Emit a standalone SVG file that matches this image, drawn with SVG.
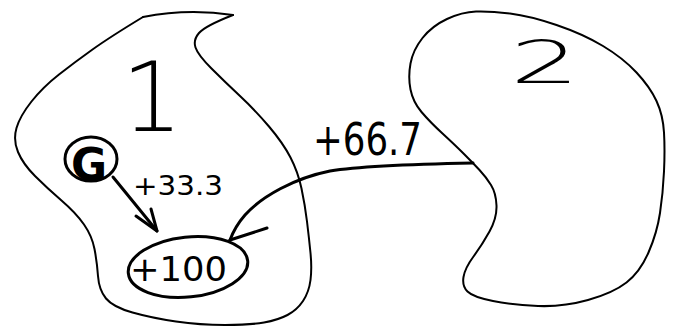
<svg xmlns="http://www.w3.org/2000/svg" width="676" height="327" viewBox="0 0 676 327">
<style>
.outline{fill:none;stroke:#000;stroke-width:2;stroke-linecap:round;stroke-linejoin:round}
.ink{fill:none;stroke:#000;stroke-width:3;stroke-linecap:round;stroke-linejoin:round}
.hand{font-family:"DejaVu Sans","Liberation Sans",sans-serif;fill:#000}
</style>
<rect width="676" height="327" fill="#fff"/>
<g id="node-1">
<path class="outline" d="M143,17 Q188,8 233,15"/>
<path class="outline" d="M233,15 Q205,26 199,33 Q193,40 195.5,47.5 Q198,55 211.5,68.5 Q225,82 240,96 Q255,110 269,126.5 Q283,143 290.5,157.5 Q298,172 301.5,188.5 Q305,205 307,221.5 Q309,238 310.5,253 Q312,268 310.5,280 Q309,292 303,301 Q297,310 287.5,315 Q278,320 264,322.5 Q250,325 225,325 Q200,325 176,321.5 Q152,318 132.5,312.5 Q113,307 106,298.5 Q99,290 98,276 Q97,262 94.5,249 Q92,236 84,224.5 Q76,213 61.5,200.5 Q47,188 35,176 Q23,164 18,152 Q13,140 16.5,128 Q20,116 31.5,101.5 Q43,87 59,74.5 Q75,62 92.5,49.5 Q110,37 143,17"/>
<text class="hand" x="152" y="131" font-size="97" font-weight="300" text-anchor="middle">1</text>
</g>
<g id="node-2">
<path class="outline" d="M510,13.5 Q530,16 556.5,25 Q583,34 603,46 Q623,58 636.5,72.5 Q650,87 656.5,101 Q663,115 664,132.5 Q665,150 664,171.5 Q663,193 660,213 Q657,233 648.5,252.5 Q640,272 626.5,282.5 Q613,293 588,300 Q563,307 538,306 Q513,305 493,301 Q473,297 467.5,291.5 Q462,286 463.5,277 Q465,268 473.5,256.5 Q482,245 489.5,231.5 Q497,218 496.5,205.5 Q496,193 491,185 Q486,177 479.5,170 Q473,163 464,154 Q455,145 442.5,133.5 Q430,122 421.5,112 Q413,102 410.5,89.5 Q408,77 410.5,63.5 Q413,50 422.5,38 Q432,26 447,19 Q462,12 476,11.5 Q490,11 510,13.5 Z"/>
<text class="hand" x="510" y="83" font-size="58" font-weight="300" textLength="70" lengthAdjust="spacingAndGlyphs">2</text>
</g>
<g id="node-G">
<ellipse class="ink" cx="91" cy="159" rx="26" ry="22"/>
<text class="hand" x="89" y="180" font-size="44" font-weight="bold" text-anchor="middle">G</text>
</g>
<g id="node-100">
<ellipse class="ink" cx="188" cy="267" rx="60" ry="30" transform="rotate(-6 188 267)"/>
<text class="hand" x="130" y="281" font-size="34" textLength="97" lengthAdjust="spacingAndGlyphs">+100</text>
</g>
<g id="connectors">
<path class="ink" d="M113,177 L157,231"/>
<path class="ink" d="M136,216 L157,231 L151,209"/>
<text class="hand" x="133" y="195" font-size="27" textLength="90" lengthAdjust="spacingAndGlyphs">+33.3</text>
<path class="ink" d="M473,163 C420,164 360,166 330,171 C295,178 262,196 245,215 C238,223 233,232 230,240"/>
<path class="ink" d="M230,240 L267,228"/>
<text class="hand" x="313" y="155" font-size="44" textLength="109" lengthAdjust="spacingAndGlyphs">+66.7</text>
</g>
</svg>
